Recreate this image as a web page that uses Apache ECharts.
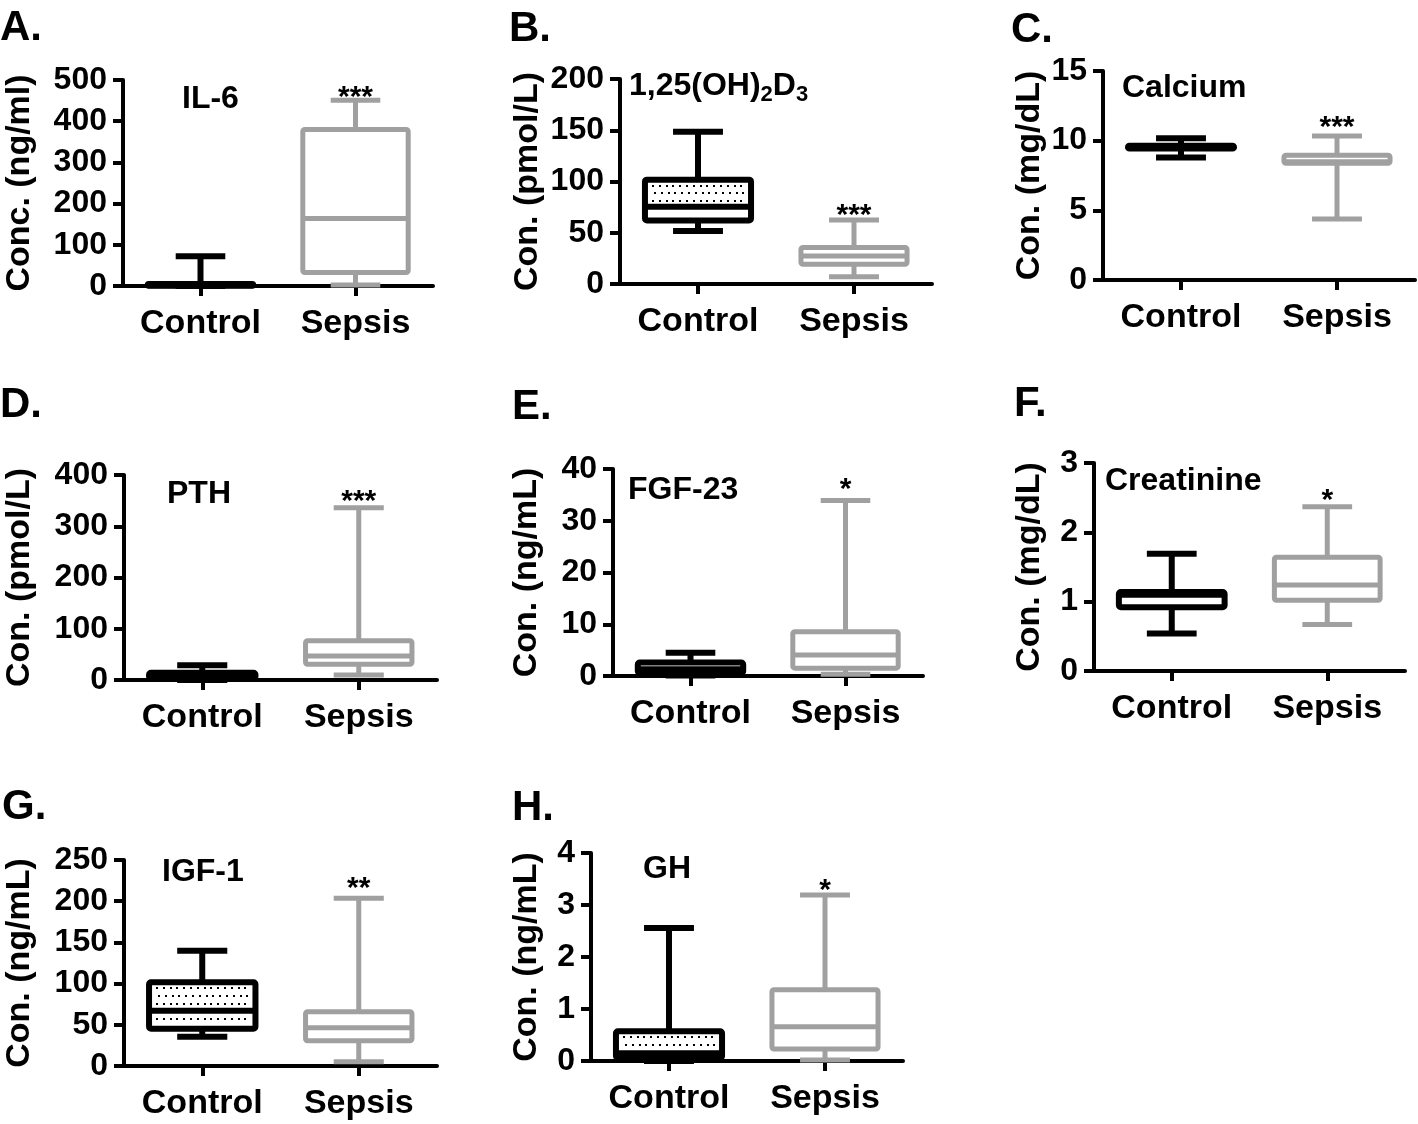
<!DOCTYPE html>
<html>
<head>
<meta charset="utf-8">
<script src="https://cdn.jsdelivr.net/npm/echarts@6/dist/echarts.min.js"></script>
<style>
html,body{margin:0;padding:0;background:#fff;}
#chart{width:1418px;height:1124px;}
</style>
</head>
<body>
<div id="chart"></div>
<script>
// ---------- data ----------
const categories = ['Control', 'Sepsis'];
const panelLetters = ['A.', 'B.', 'C.', 'D.', 'E.', 'F.', 'G.', 'H.'];
const panelTitles = ['IL-6', '{m|1,25(OH)}{s|2}{m|D}{s|3}', 'Calcium', 'PTH', 'FGF-23', 'Creatinine', 'IGF-1', 'GH'];
const yAxisNames = ['Conc. (ng/ml)', 'Con. (pmol/L)', 'Con. (mg/dL)', 'Con. (pmol/L)', 'Con. (ng/mL)', 'Con. (mg/dL)', 'Con. (ng/mL)', 'Con. (ng/mL)'];
const yMaxes = [500, 200, 15, 400, 40, 3, 250, 4];
const yIntervals = [100, 50, 5, 100, 10, 1, 50, 1];

// box statistics: [min, Q1, median, Q3, max]
const il6Control = [0, 0.5, 2, 5, 72];
const il6Sepsis = [2.4, 32.8, 164, 380, 451];
const vitDControl = [51.7, 62, 75.4, 101.8, 148.6];
const vitDSepsis = [7.1, 19.3, 27.3, 35.6, 62.4];
const calciumControl = [8.8, 9.43, 9.55, 9.64, 10.17];
const calciumSepsis = [4.38, 8.38, 8.49, 8.96, 10.34];
const pthControl = [0, 3, 8, 14, 29];
const pthSepsis = [9.8, 30.8, 46.8, 76.5, 336];
const fgfControl = [0.1, 0.6, 1.3, 2.6, 4.5];
const fgfSepsis = [0.33, 1.51, 4.06, 8.54, 33.9];
const creatinineControl = [0.54, 0.92, 1.10, 1.14, 1.69];
const creatinineSepsis = [0.67, 1.02, 1.24, 1.64, 2.37];
const igfControl = [35.6, 45.3, 67, 101.6, 140];
const igfSepsis = [5.3, 30.6, 46.5, 65.8, 203.5];
const ghControl = [0, 0.06, 0.15, 0.57, 2.56];
const ghSepsis = [0.02, 0.23, 0.66, 1.37, 3.19];

const controlStats = [il6Control, vitDControl, calciumControl, pthControl, fgfControl, creatinineControl, igfControl, ghControl];
const sepsisStats = [il6Sepsis, vitDSepsis, calciumSepsis, pthSepsis, fgfSepsis, creatinineSepsis, igfSepsis, ghSepsis];
const significance = ['***', '***', '***', '***', '*', '*', '**', '*'];
const dottedControl = [false, true, false, false, false, false, true, true];

// ---------- layout ----------
const FONT = "'Liberation Sans', Arial, Helvetica, sans-serif";
const grids = [
  {left: 123, top: 80, width: 310, height: 206},
  {left: 620, top: 79, width: 312, height: 205},
  {left: 1103, top: 71, width: 312, height: 209},
  {left: 124, top: 475, width: 313, height: 205},
  {left: 613, top: 469, width: 310, height: 207},
  {left: 1094, top: 463, width: 311, height: 208},
  {left: 124, top: 860, width: 313, height: 206},
  {left: 591, top: 853, width: 312, height: 208}
];
const nameGaps = [86, 75, 56, 87, 69, 47, 87, 47];
const starGaps = [3, 5, 9, 7, 12, 7, 11, 5];
const letterPos = [[0, 7], [509, 8], [1011, 9], [0, 384], [512, 386], [1014, 383], [2, 786], [512, 787]];
const titlePos = [[182, 83], [629, 70], [1122, 72], [167, 478], [628, 474], [1105, 465], [162, 856], [643, 853]];

const BLACK = '#000000';
const GRAY = '#a0a0a0';

function makeRender(panel) {
  return function (params, api) {
    const idx = api.value(0);
    const vals = [api.value(1), api.value(2), api.value(3), api.value(4), api.value(5)];
    const p = vals.map(v => api.coord([idx, v]));
    const cx = p[0][0];
    const yMin = p[0][1], yQ1 = p[1][1], yMed = p[2][1], yQ3 = p[3][1], yMax = p[4][1];
    const catW = api.size([1, 0])[0];
    const boxW = catW * 0.68;
    const capW = catW * 0.32;
    const color = idx === 0 ? BLACK : GRAY;
    const lw = idx === 0 ? 6 : 5;
    const ls = {stroke: color, lineWidth: lw, lineCap: 'butt'};
    const children = [];
    children.push({type: 'line', shape: {x1: cx, y1: yQ3, x2: cx, y2: yMax}, style: ls});
    children.push({type: 'line', shape: {x1: cx, y1: yMin, x2: cx, y2: yQ1}, style: ls});
    children.push({type: 'line', shape: {x1: cx - capW / 2, y1: yMax, x2: cx + capW / 2, y2: yMax}, style: ls});
    children.push({type: 'line', shape: {x1: cx - capW / 2, y1: yMin, x2: cx + capW / 2, y2: yMin}, style: ls});
    children.push({type: 'rect', shape: {x: cx - boxW / 2, y: yQ3, width: boxW, height: yQ1 - yQ3, r: 2},
      style: {fill: '#ffffff', stroke: color, lineWidth: lw, lineJoin: 'round'}});
    if (idx === 0 && dottedControl[panel]) {
      const x0 = cx - boxW / 2 + lw / 2 + 5, x1 = cx + boxW / 2 - lw / 2 - 3;
      const y0 = yQ3 + lw / 2 + 3, y1 = yQ1 - lw / 2 - 2.5;
      let row = 0;
      for (let y = y0; y <= y1; y += 7.7, row++) {
        if (Math.abs(y - yMed) < lw / 2 + 1.8) continue;
        const off = (row % 2) * 2;
        for (let x = x0 + off; x <= x1; x += 6.8) {
          children.push({type: 'rect', shape: {x: Math.round(x) - 1, y: Math.round(y) - 1, width: 2, height: 2}, style: {fill: '#000'}});
        }
      }
    }
    children.push({type: 'line', shape: {x1: cx - boxW / 2, y1: yMed, x2: cx + boxW / 2, y2: yMed}, style: ls});
    if (idx === 1) {
      children.push({type: 'text', style: {text: significance[panel], x: cx, y: yMax - 14 - starGaps[panel],
        align: 'center', verticalAlign: 'top', fill: BLACK, font: 'bold 30px ' + FONT}});
    }
    return {type: 'group', children: children};
  };
}

const option = {
  backgroundColor: '#ffffff',
  animation: false,
  title: [],
  grid: [],
  xAxis: [],
  yAxis: [],
  series: []
};

for (let i = 0; i < 8; i++) {
  option.title.push({text: panelLetters[i], left: letterPos[i][0], top: letterPos[i][1], padding: 0,
    textStyle: {fontSize: 42, fontWeight: 'bold', color: BLACK, fontFamily: FONT}});
  option.title.push({text: panelTitles[i], left: titlePos[i][0], top: titlePos[i][1], padding: 0,
    textStyle: {fontSize: 32, fontWeight: 'bold', color: BLACK, fontFamily: FONT,
      rich: {m: {fontSize: 32, lineHeight: 36, fontWeight: 'bold', fontFamily: FONT, color: BLACK, verticalAlign: 'top'},
             s: {fontSize: 22, lineHeight: 22, fontWeight: 'bold', fontFamily: FONT, color: BLACK, verticalAlign: 'bottom'}}}});
  option.grid.push(Object.assign({outerBoundsMode: 'none', containLabel: false}, grids[i]));
  option.xAxis.push({
    type: 'category', gridIndex: i, data: categories, boundaryGap: true,
    axisLine: {show: true, lineStyle: {color: BLACK, width: 4}},
    axisTick: {show: true, alignWithLabel: true, length: 10, lineStyle: {color: BLACK, width: 4}},
    axisLabel: {interval: 0, hideOverlap: false, fontSize: 34, fontWeight: 'bold', color: BLACK, fontFamily: FONT, margin: 21},
    splitLine: {show: false}
  });
  option.yAxis.push({
    type: 'value', gridIndex: i, min: 0, max: yMaxes[i], interval: yIntervals[i],
    name: yAxisNames[i], nameLocation: 'middle', nameGap: nameGaps[i], nameMoveOverlap: false,
    nameTextStyle: {fontSize: 34, fontWeight: 'bold', color: BLACK, fontFamily: FONT},
    axisLine: {show: true, lineStyle: {color: BLACK, width: 4}},
    axisTick: {show: true, length: 10, lineStyle: {color: BLACK, width: 4}},
    axisLabel: {fontSize: 32, fontWeight: 'bold', color: BLACK, fontFamily: FONT, margin: 16, hideOverlap: false},
    splitLine: {show: false}
  });
  option.series.push({
    type: 'custom', xAxisIndex: i, yAxisIndex: i, clip: false,
    renderItem: makeRender(i),
    encode: {x: 0, y: [1, 2, 3, 4, 5]},
    data: [[0].concat(controlStats[i]), [1].concat(sepsisStats[i])]
  });
}

const chart = echarts.init(document.getElementById('chart'), null, {renderer: 'canvas'});
chart.setOption(option);
</script>
</body>
</html>
